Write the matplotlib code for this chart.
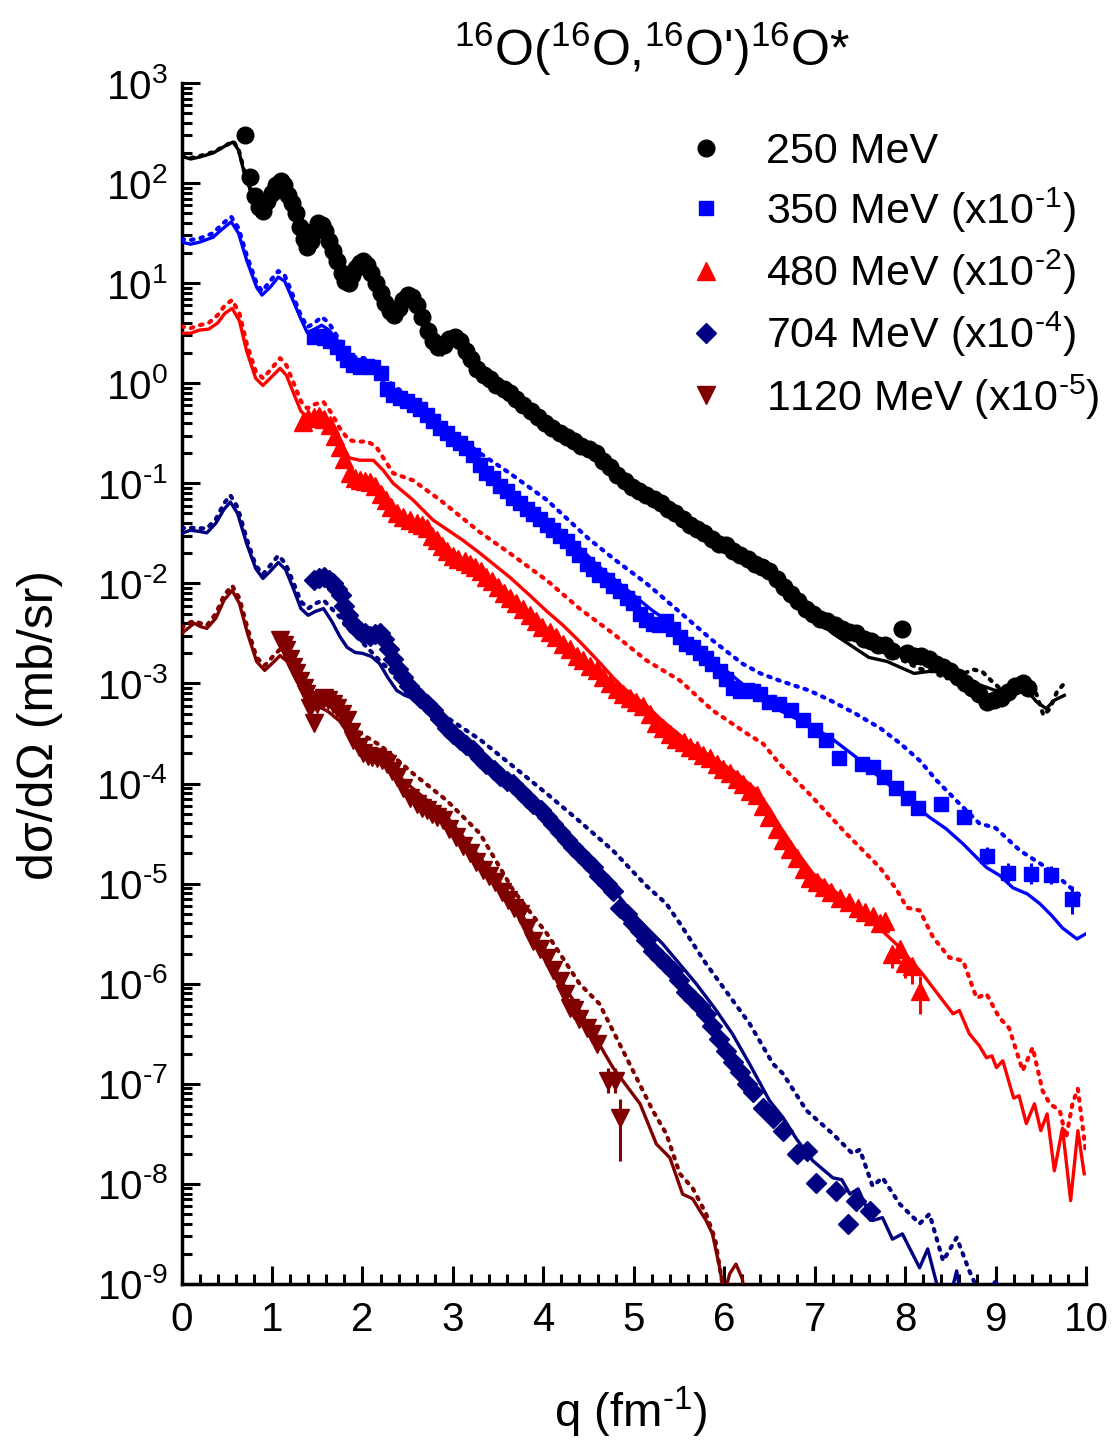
import matplotlib
matplotlib.use("Agg")
import numpy as np
import matplotlib.pyplot as plt
from matplotlib.lines import Line2D
from matplotlib.ticker import LogLocator, MultipleLocator, NullFormatter, FuncFormatter

plt.rcParams['font.family'] = ['Liberation Sans', 'DejaVu Sans']
plt.rcParams['mathtext.fontset'] = 'custom'
plt.rcParams['mathtext.rm'] = 'Liberation Sans'
plt.rcParams['mathtext.it'] = 'Liberation Sans:italic'
plt.rcParams['mathtext.bf'] = 'Liberation Sans:bold'

# ---------------- 250 MeV ----------------
q250_th = [0.00, 0.10, 0.20, 0.35, 0.50, 0.57, 0.63, 0.70, 0.78, 0.86, 0.92, 1.00, 1.07, 1.12, 1.20, 1.30, 1.38,
           1.45, 1.52, 1.58, 1.70, 1.80, 1.86, 1.95, 2.02, 2.10, 2.25, 2.35, 2.45, 2.55, 2.65, 2.78, 2.88, 3.00,
           3.06, 3.20, 3.35, 3.50, 3.65, 3.80, 4.00, 4.25, 4.50, 4.75, 5.00, 5.25, 5.50, 5.75, 6.00, 6.25, 6.50,
           6.75, 7.00, 7.20, 7.40, 7.60, 7.80, 8.00, 8.10, 8.35, 8.50, 8.70, 8.85, 9.00, 9.15, 9.35, 9.45, 9.56,
           9.65, 9.76]
y250_solid = [1.86e2, 1.74e2, 1.82e2, 2.0e2, 2.4e2, 2.57e2, 2.14e2, 1.2e2, 7.6e1, 5.6e1, 5.5e1, 7.4e1, 9.5e1,
              9.3e1, 6.6e1, 3.3e1, 2.24e1, 2.5e1, 3.55e1, 3.3e1, 1.78e1, 1.05e1, 9.1, 1.32e1, 1.51e1, 1.12e1, 5.6,
              4.3, 6.0, 7.1, 4.5, 2.24, 1.91, 2.5, 2.63, 1.51, 1.05, 8.9e-1, 7.1e-1, 5.6e-1, 4.0e-1, 2.8e-1,
              2.2e-1, 1.41e-1, 8.9e-2, 6.3e-2, 4.5e-2, 3.16e-2, 2.24e-2, 1.66e-2, 1.2e-2, 7.9e-3, 4.5e-3,
              3.16e-3, 2.4e-3, 1.82e-3, 1.66e-3, 1.38e-3, 1.26e-3, 1.35e-3, 1.2e-3, 1.07e-3, 9.5e-4, 8.5e-4,
              9.1e-4, 8.5e-4, 6.6e-4, 5.6e-4, 6.8e-4, 7.6e-4]
q250_dot = [0.00, 0.10, 0.20, 0.35, 0.50, 0.57, 0.63, 0.70, 0.78, 0.86, 0.92, 1.00, 1.07, 1.12, 1.20, 1.30, 1.38,
            1.45, 1.52, 1.58, 1.70, 1.80, 1.86, 1.95, 2.02, 2.10, 2.25, 2.35, 2.45, 2.55, 2.65, 2.78, 2.88, 3.00,
            3.06, 3.20, 3.35, 3.50, 3.65, 3.80, 4.00, 4.25, 4.50, 4.75, 5.00, 5.25, 5.50, 5.75, 6.00, 6.25, 6.50,
            6.75, 7.00, 7.20, 7.40, 7.60, 7.80, 8.00, 8.15, 8.30, 8.45, 8.60, 8.75, 8.85, 8.95, 9.05, 9.20, 9.35,
            9.45, 9.53, 9.60, 9.68, 9.76]
y250_dot = [1.86e2, 1.78e2, 1.86e2, 2.04e2, 2.4e2, 2.63e2, 2.19e2, 1.26e2, 7.9e1, 5.9e1, 5.75e1, 7.6e1, 9.8e1,
            9.5e1, 6.9e1, 3.55e1, 2.4e1, 2.63e1, 3.7e1, 3.47e1, 1.91e1, 1.12e1, 9.8, 1.38e1, 1.58e1, 1.2e1, 6.0,
            4.6, 6.3, 7.4, 4.8, 2.5, 2.14, 2.75, 2.88, 1.66, 1.15, 9.5e-1, 7.6e-1, 6.0e-1, 4.3e-1, 3.0e-1,
            2.3e-1, 1.51e-1, 9.5e-2, 6.8e-2, 4.8e-2, 3.4e-2, 2.4e-2, 1.78e-2, 1.29e-2, 8.9e-3, 5.25e-3, 3.8e-3,
            2.9e-3, 2.3e-3, 2.0e-3, 1.66e-3, 1.41e-3, 1.32e-3, 1.12e-3, 1.2e-3, 1.38e-3, 1.32e-3, 1.07e-3,
            8.9e-4, 1.0e-3, 1.07e-3, 7.9e-4, 4.8e-4, 5.6e-4, 8.3e-4, 1.0e-3]
q250_exp = [0.70, 0.76, 0.81, 0.86, 0.90, 0.95, 1.00, 1.05, 1.10, 1.13, 1.18, 1.22, 1.27, 1.31, 1.35, 1.39, 1.43,
            1.47, 1.51, 1.55, 1.59, 1.63, 1.68, 1.72, 1.77, 1.81, 1.85, 1.89, 1.93, 1.97, 2.01, 2.05, 2.10, 2.15,
            2.20, 2.25, 2.30, 2.35, 2.40, 2.45, 2.50, 2.55, 2.60, 2.66, 2.72, 2.78, 2.84, 2.90, 2.96, 3.02, 3.08,
            3.14, 3.20, 3.27, 3.34, 3.41, 3.48, 3.56, 3.63, 3.70, 3.78, 3.86, 3.94, 4.02, 4.10, 4.18, 4.26, 4.34,
            4.42, 4.50, 4.58, 4.66, 4.74, 4.82, 4.90, 4.98, 5.06, 5.14, 5.22, 5.30, 5.38, 5.46, 5.54, 5.62, 5.70,
            5.78, 5.86, 5.94, 6.02, 6.10, 6.18, 6.26, 6.34, 6.42, 6.50, 6.58, 6.66, 6.74, 6.82, 6.90, 6.98, 7.06,
            7.14, 7.22, 7.30, 7.38, 7.46, 7.54, 7.62, 7.70, 7.78, 7.86, 7.97, 8.02, 8.10, 8.18, 8.26, 8.34, 8.42,
            8.50, 8.58, 8.66, 8.74, 8.82, 8.90, 8.98, 9.06, 9.14, 9.22, 9.30, 9.36]
y250_exp = [3.0e2, 1.15e2, 7.4e1, 5.75e1, 5.25e1, 6.6e1, 7.9e1, 9.5e1, 1.05e2, 9.5e1, 7.6e1, 6.3e1, 5.0e1, 3.6e1,
            2.75e1, 2.3e1, 2.63e1, 3.3e1, 4.0e1, 3.8e1, 3.3e1, 2.63e1, 2.1e1, 1.66e1, 1.26e1, 1.05e1, 1.0e1,
            1.2e1, 1.41e1, 1.58e1, 1.66e1, 1.51e1, 1.26e1, 1.0e1, 7.9, 6.3, 5.25, 4.8, 5.6, 6.8, 7.6, 7.2, 6.0,
            4.6, 3.3, 2.63, 2.3, 2.4, 2.75, 2.88, 2.63, 2.1, 1.74, 1.38, 1.2, 1.1, 9.5e-1, 8.7e-1, 7.9e-1,
            6.9e-1, 6.0e-1, 5.25e-1, 4.6e-1, 4.0e-1, 3.6e-1, 3.16e-1, 2.9e-1, 2.63e-1, 2.34e-1, 2.2e-1, 2.0e-1,
            1.66e-1, 1.45e-1, 1.2e-1, 1.05e-1, 9.1e-2, 8.3e-2, 7.6e-2, 6.9e-2, 6.3e-2, 5.6e-2, 5.0e-2, 4.4e-2,
            3.8e-2, 3.5e-2, 3.16e-2, 2.75e-2, 2.5e-2, 2.4e-2, 2.1e-2, 1.9e-2, 1.74e-2, 1.58e-2, 1.45e-2, 1.32e-2,
            1.1e-2, 9.1e-3, 7.9e-3, 6.6e-3, 5.5e-3, 5.0e-3, 4.4e-3, 4.2e-3, 3.8e-3, 3.5e-3, 3.3e-3, 3.16e-3,
            2.8e-3, 2.63e-3, 2.4e-3, 2.4e-3, 2.1e-3, 3.5e-3, 2.0e-3, 1.9e-3, 1.9e-3, 1.74e-3, 1.58e-3, 1.45e-3,
            1.32e-3, 1.15e-3, 1.0e-3, 9.1e-4, 7.9e-4, 6.6e-4, 6.9e-4, 7.2e-4, 8.3e-4, 9.5e-4, 1.0e-3, 9.1e-4]

# ---------------- 350 MeV (x10^-1) ----------------
q350_solid = [0.00, 0.10, 0.20, 0.35, 0.45, 0.55, 0.63, 0.72, 0.83, 0.89, 0.98, 1.07, 1.14, 1.20, 1.31, 1.39,
              1.47, 1.55, 1.63, 1.72, 1.82, 1.90, 2.00, 2.10, 2.20, 2.30, 2.50, 2.75, 3.00, 3.30, 3.50, 3.75,
              4.00, 4.30, 4.60, 4.80, 5.00, 5.20, 5.36, 5.60, 5.85, 6.06, 6.25, 6.40, 6.61, 6.90, 7.17, 7.45,
              7.72, 8.00, 8.27, 8.45, 8.64, 8.90, 9.05, 9.19, 9.35, 9.49, 9.62, 9.74, 9.90, 10.00]
y350_solid = [2.57e1, 2.45e1, 2.57e1, 2.88e1, 3.47e1, 4.1e1, 3.16e1, 1.7e1, 9.1, 7.6, 9.1, 1.15e1, 1.05e1, 7.9,
              4.6, 3.2, 3.47, 3.8, 3.4, 2.7, 2.0, 1.66, 1.55, 1.41, 1.12, 8.7e-1, 6.6e-1, 4.5e-1, 2.8e-1,
              1.58e-1, 1.12e-1, 7.1e-2, 4.7e-2, 2.8e-2, 1.51e-2, 1.07e-2, 7.6e-3, 5.4e-3, 4.3e-3, 2.8e-3,
              1.78e-3, 1.26e-3, 9.1e-4, 7.6e-4, 5.4e-4, 4.0e-4, 2.9e-4, 1.86e-4, 1.15e-4, 7.2e-5, 4.6e-5,
              3.55e-5, 2.5e-5, 1.45e-5, 1.2e-5, 9.1e-6, 7.9e-6, 6.3e-6, 4.8e-6, 3.6e-6, 2.8e-6, 3.16e-6]
q350_dot = [0.00, 0.10, 0.20, 0.35, 0.45, 0.55, 0.63, 0.72, 0.83, 0.89, 0.98, 1.07, 1.14, 1.20, 1.31, 1.39, 1.47,
            1.55, 1.63, 1.72, 1.82, 1.92, 2.02, 2.12, 2.25, 2.40, 2.60, 2.80, 3.00, 3.30, 3.63, 4.04, 4.50, 4.80,
            5.14, 5.50, 5.87, 6.20, 6.40, 6.61, 6.94, 7.17, 7.45, 7.72, 7.95, 8.16, 8.35, 8.60, 8.82, 9.00, 9.27,
            9.56, 9.74, 9.93, 10.00]
y350_dot = [2.75e1, 2.7e1, 2.8e1, 3.16e1, 3.9e1, 4.6e1, 3.55e1, 1.91e1, 1.0e1, 8.3, 1.05e1, 1.32e1, 1.2e1, 8.9,
            5.0, 3.63, 4.0, 4.6, 4.0, 2.95, 2.19, 1.82, 1.78, 1.51, 1.1, 8.7e-1, 6.3e-1, 4.4e-1, 3.16e-1, 2.0e-1,
            1.26e-1, 6.8e-2, 2.8e-2, 1.7e-2, 1.0e-2, 5.25e-3, 2.7e-3, 1.58e-3, 1.26e-3, 1.07e-3, 8.5e-4, 6.8e-4,
            5.0e-4, 3.6e-4, 2.5e-4, 1.7e-4, 1.07e-4, 6.3e-5, 4.0e-5, 3.6e-5, 2.14e-5, 1.45e-5, 1.07e-5, 7.6e-6,
            7.6e-6]
q350_exp = [1.46, 1.52, 1.58, 1.64, 1.72, 1.78, 1.83, 1.90, 1.97, 2.05, 2.12, 2.20, 2.27, 2.34, 2.42, 2.49, 2.57,
            2.64, 2.71, 2.78, 2.86, 2.93, 3.00, 3.08, 3.15, 3.22, 3.30, 3.37, 3.44, 3.52, 3.60, 3.67, 3.74, 3.82,
            3.89, 3.96, 4.04, 4.11, 4.18, 4.26, 4.33, 4.40, 4.48, 4.55, 4.62, 4.70, 4.77, 4.85, 4.92, 4.99, 5.07,
            5.14, 5.21, 5.28, 5.36, 5.43, 5.51, 5.58, 5.65, 5.73, 5.80, 5.87, 5.95, 6.02, 6.10, 6.17, 6.25, 6.32,
            6.40, 6.50, 6.61, 6.74, 6.87, 7.00, 7.13, 7.27, 7.52, 7.64, 7.77, 7.90, 8.03, 8.14, 8.40, 8.65, 8.90,
            9.14, 9.39, 9.61, 9.85]
y350_exp = [2.88, 2.95, 2.8, 2.63, 2.3, 2.0, 1.7, 1.51, 1.45, 1.48, 1.45, 1.26, 8.7e-1, 7.6e-1, 7.1e-1, 6.6e-1,
            6.0e-1, 5.5e-1, 4.8e-1, 4.2e-1, 3.6e-1, 3.16e-1, 2.8e-1, 2.5e-1, 2.24e-1, 1.9e-1, 1.51e-1, 1.26e-1,
            1.12e-1, 9.5e-2, 8.3e-2, 7.2e-2, 6.3e-2, 5.5e-2, 4.9e-2, 4.4e-2, 3.8e-2, 3.4e-2, 3.0e-2, 2.63e-2,
            2.24e-2, 1.9e-2, 1.58e-2, 1.38e-2, 1.2e-2, 1.07e-2, 9.5e-3, 8.3e-3, 7.2e-3, 6.3e-3, 5.0e-3, 4.3e-3,
            3.9e-3, 3.8e-3, 4.2e-3, 3.5e-3, 2.9e-3, 2.5e-3, 2.3e-3, 2.0e-3, 1.78e-3, 1.58e-3, 1.32e-3, 1.12e-3,
            9.1e-4, 8.5e-4, 8.7e-4, 8.5e-4, 7.9e-4, 6.6e-4, 6.3e-4, 5.4e-4, 4.3e-4, 3.4e-4, 2.7e-4, 1.78e-4,
            1.58e-4, 1.45e-4, 1.15e-4, 9.1e-5, 7.1e-5, 5.75e-5, 6.3e-5, 4.6e-5, 1.9e-5, 1.29e-5, 1.26e-5,
            1.23e-5, 7.1e-6]
q350_eb = [8.90, 9.14, 9.39, 9.61, 9.85]
y350_eb = [1.9e-5, 1.29e-5, 1.26e-5, 1.23e-5, 7.1e-6]
lo350_eb = [1.58e-5, 1.05e-5, 1.0e-5, 1.0e-5, 5.0e-6]
hi350_eb = [2.3e-5, 1.6e-5, 1.6e-5, 1.5e-5, 9.5e-6]

# ---------------- 480 MeV (x10^-2) ----------------
q480_solid = [0.00, 0.10, 0.20, 0.30, 0.40, 0.48, 0.56, 0.64, 0.72, 0.82, 0.90, 0.98, 1.09, 1.16, 1.24, 1.32,
              1.39, 1.48, 1.57, 1.66, 1.75, 1.83, 1.97, 2.12, 2.23, 2.34, 2.56, 2.78, 3.11, 3.30, 3.63, 3.85,
              4.04, 4.22, 4.40, 4.59, 4.77, 4.88, 5.14, 5.32, 5.58, 5.87, 6.14, 6.36, 6.50, 6.61, 6.80, 6.98,
              7.28, 7.61, 7.72, 7.90, 8.19, 8.40, 8.53, 8.60, 8.71, 8.82, 8.90, 8.96, 9.01, 9.08, 9.20, 9.26,
              9.34, 9.43, 9.50, 9.57, 9.65, 9.74, 9.83, 9.91, 9.98]
y480_solid = [3.16, 3.16, 3.4, 3.47, 4.0, 5.0, 5.6, 4.2, 2.1, 1.12, 9.5e-1, 1.12, 1.41, 1.2, 7.9e-1, 5.25e-1,
              4.6e-1, 4.9e-1, 5.0e-1, 3.8e-1, 2.5e-1, 1.82e-1, 1.7e-1, 1.7e-1, 1.35e-1, 1.0e-1, 6.8e-2, 4.3e-2,
              2.7e-2, 2.0e-2, 1.15e-2, 7.6e-3, 5.25e-3, 3.8e-3, 2.63e-3, 1.74e-3, 1.15e-3, 9.1e-4, 6.0e-4,
              4.2e-4, 2.7e-4, 1.82e-4, 1.26e-4, 8.5e-5, 5.6e-5, 3.8e-5, 2.1e-5, 1.26e-5, 7.6e-6, 4.5e-6,
              3.55e-6, 2.5e-6, 1.26e-6, 7.1e-7, 5.0e-7, 5.4e-7, 3.16e-7, 2.4e-7, 1.82e-7, 1.9e-7, 1.45e-7,
              1.7e-7, 7.2e-8, 7.6e-8, 4.0e-8, 6.3e-8, 3.4e-8, 5.0e-8, 1.35e-8, 3.6e-8, 6.8e-9, 3.4e-8, 1.26e-8]
q480_dot = [0.00, 0.10, 0.20, 0.30, 0.40, 0.48, 0.56, 0.64, 0.72, 0.82, 0.90, 0.98, 1.09, 1.16, 1.24, 1.32, 1.39,
            1.48, 1.57, 1.66, 1.75, 1.85, 1.95, 2.05, 2.15, 2.34, 2.56, 2.86, 3.30, 3.63, 4.04, 4.40, 4.77, 5.14,
            5.51, 5.87, 6.25, 6.43, 6.61, 6.94, 7.35, 7.72, 7.90, 8.02, 8.16, 8.31, 8.49, 8.64, 8.79, 8.90, 9.04,
            9.15, 9.30, 9.41, 9.52, 9.60, 9.71, 9.78, 9.85, 9.91, 10.00]
y480_dot = [3.7, 3.55, 3.8, 4.0, 4.8, 6.0, 6.8, 5.0, 2.5, 1.32, 1.12, 1.35, 1.78, 1.51, 1.0, 6.6e-1, 5.6e-1,
            6.2e-1, 6.5e-1, 5.0e-1, 3.55e-1, 2.7e-1, 2.6e-1, 2.63e-1, 2.34e-1, 1.26e-1, 1.07e-1, 6.8e-2, 3.24e-2,
            2.0e-2, 1.07e-2, 5.6e-3, 3.16e-3, 1.7e-3, 1.07e-3, 5.4e-4, 3.16e-4, 2.5e-4, 1.58e-4, 7.9e-5, 3.16e-5,
            1.45e-5, 8.9e-6, 5.75e-6, 5.4e-6, 2.9e-6, 1.82e-6, 1.7e-6, 7.2e-7, 7.9e-7, 4.6e-7, 3.6e-7, 1.35e-7,
            2.3e-7, 8.5e-8, 6.3e-8, 5.4e-8, 2.9e-8, 6.3e-8, 8.9e-8, 2.0e-8]
q480_exp = [1.34, 1.40, 1.46, 1.52, 1.58, 1.64, 1.70, 1.75, 1.80, 1.86, 1.92, 1.97, 2.03, 2.08, 2.14, 2.20, 2.26,
            2.32, 2.38, 2.45, 2.53, 2.60, 2.66, 2.71, 2.77, 2.82, 2.88, 2.94, 3.00, 3.06, 3.13, 3.19, 3.25, 3.31,
            3.37, 3.43, 3.50, 3.56, 3.63, 3.70, 3.77, 3.85, 3.92, 3.99, 4.07, 4.14, 4.22, 4.29, 4.37, 4.44, 4.52,
            4.59, 4.66, 4.74, 4.81, 4.88, 4.96, 5.03, 5.10, 5.18, 5.25, 5.32, 5.40, 5.47, 5.55, 5.62, 5.70, 5.77,
            5.84, 5.92, 5.99, 6.06, 6.14, 6.21, 6.28, 6.36, 6.43, 6.50, 6.58, 6.65, 6.73, 6.80, 6.88, 6.95, 7.03,
            7.10, 7.18, 7.28, 7.38, 7.48, 7.56, 7.64, 7.72, 7.78, 7.86, 7.94, 8.00, 8.08, 8.16]
y480_exp = [4.1e-1, 4.5e-1, 4.6e-1, 4.7e-1, 4.4e-1, 3.8e-1, 3.0e-1, 2.3e-1, 1.74e-1, 1.26e-1, 1.12e-1, 1.07e-1,
            1.05e-1, 1.02e-1, 9.5e-2, 7.9e-2, 6.8e-2, 5.75e-2, 5.0e-2, 4.6e-2, 4.3e-2, 4.0e-2, 3.8e-2, 3.55e-2,
            3.0e-2, 2.7e-2, 2.34e-2, 2.1e-2, 1.86e-2, 1.74e-2, 1.66e-2, 1.58e-2, 1.45e-2, 1.32e-2, 1.17e-2,
            1.05e-2, 9.1e-3, 8.1e-3, 7.1e-3, 6.3e-3, 5.5e-3, 4.8e-3, 4.2e-3, 3.7e-3, 3.3e-3, 2.9e-3, 2.5e-3,
            2.2e-3, 1.9e-3, 1.7e-3, 1.51e-3, 1.35e-3, 1.17e-3, 1.02e-3, 8.9e-4, 7.9e-4, 7.2e-4, 6.6e-4, 6.0e-4,
            5.0e-4, 4.0e-4, 3.55e-4, 3.16e-4, 2.8e-4, 2.6e-4, 2.3e-4, 2.14e-4, 1.95e-4, 1.78e-4, 1.58e-4,
            1.41e-4, 1.26e-4, 1.12e-4, 1.0e-4, 8.5e-5, 7.6e-5, 6.0e-5, 4.6e-5, 3.5e-5, 2.75e-5, 2.2e-5, 1.82e-5,
            1.41e-5, 1.15e-5, 1.05e-5, 9.3e-6, 8.3e-6, 7.2e-6, 6.6e-6, 5.75e-6, 5.25e-6, 4.8e-6, 4.0e-6, 4.2e-6,
            2.0e-6, 2.24e-6, 1.62e-6, 1.51e-6, 8.5e-7]
q480_eb = [7.86, 8.00, 8.08, 8.16]
y480_eb = [2.0e-6, 1.62e-6, 1.51e-6, 8.5e-7]
lo480_eb = [1.45e-6, 1.15e-6, 1.0e-6, 5.0e-7]
hi480_eb = [2.2e-6, 1.8e-6, 1.7e-6, 1.2e-6]

# ---------------- 704 MeV (x10^-4) ----------------
q704_solid = [0.00, 0.10, 0.20, 0.28, 0.38, 0.47, 0.54, 0.62, 0.72, 0.82, 0.90, 0.98, 1.07, 1.15, 1.24, 1.32,
              1.40, 1.48, 1.57, 1.66, 1.75, 1.83, 1.92, 2.00, 2.10, 2.19, 2.28, 2.38, 2.47, 2.56, 2.78, 3.11,
              3.30, 3.63, 4.04, 4.40, 4.77, 4.99, 5.32, 5.69, 5.90, 6.09, 6.28, 6.50, 6.65, 6.80, 6.98, 7.20,
              7.30, 7.39, 7.48, 7.64, 7.75, 7.86, 7.97, 8.16, 8.25, 8.35, 8.45, 8.57, 8.65]
y704_solid = [3.16e-2, 3.4e-2, 3.3e-2, 3.2e-2, 4.0e-2, 5.5e-2, 6.5e-2, 5.0e-2, 2.5e-2, 1.41e-2, 1.12e-2, 1.32e-2,
              1.62e-2, 1.38e-2, 8.7e-3, 5.6e-3, 4.8e-3, 5.25e-3, 5.6e-3, 4.2e-3, 2.95e-3, 2.3e-3, 2.04e-3,
              2.0e-3, 1.86e-3, 1.58e-3, 1.15e-3, 8.5e-4, 7.6e-4, 7.1e-4, 5.0e-4, 2.7e-4, 1.82e-4, 9.1e-5,
              4.4e-5, 1.9e-5, 8.9e-6, 5.0e-6, 2.5e-6, 1.0e-6, 5.6e-7, 3.16e-7, 1.58e-7, 6.8e-8, 4.6e-8, 2.8e-8,
              1.7e-8, 1.15e-8, 1.1e-8, 7.9e-9, 8.9e-9, 4.3e-9, 4.6e-9, 2.8e-9, 3.16e-9, 1.45e-9, 2.24e-9, 1.0e-9,
              5.0e-10, 1.35e-9, 5.0e-10]
q704_dot = [0.00, 0.10, 0.20, 0.28, 0.38, 0.47, 0.54, 0.62, 0.72, 0.82, 0.90, 0.98, 1.07, 1.15, 1.24, 1.32, 1.40,
            1.48, 1.57, 1.66, 1.75, 1.83, 1.90, 2.05, 2.20, 2.34, 2.56, 2.93, 3.30, 3.63, 4.04, 4.40, 4.77, 5.14,
            5.36, 5.51, 5.80, 6.28, 6.54, 6.65, 6.91, 7.20, 7.42, 7.50, 7.64, 7.75, 7.94, 8.16, 8.27, 8.42, 8.57,
            8.71, 8.80, 8.90, 9.00, 9.08]
y704_dot = [3.55e-2, 3.6e-2, 3.55e-2, 3.55e-2, 4.4e-2, 6.3e-2, 7.6e-2, 5.75e-2, 2.8e-2, 1.51e-2, 1.23e-2,
            1.51e-2, 1.9e-2, 1.58e-2, 1.0e-2, 6.6e-3, 5.6e-3, 6.3e-3, 6.8e-3, 5.6e-3, 4.6e-3, 3.6e-3, 3.16e-3,
            2.3e-3, 1.66e-3, 1.26e-3, 7.6e-4, 4.6e-4, 2.75e-4, 1.58e-4, 7.9e-5, 4.2e-5, 2.14e-5, 9.5e-6, 6.3e-6,
            4.0e-6, 1.58e-6, 4.0e-7, 1.58e-7, 1.26e-7, 5.4e-8, 3.16e-8, 2.0e-8, 2.2e-8, 9.5e-9, 1.15e-8, 6.3e-9,
            4.0e-9, 5.0e-9, 1.7e-9, 2.9e-9, 1.35e-9, 8.9e-10, 5.0e-10, 1.12e-9, 5.0e-10]
q704_exp = [1.46, 1.52, 1.57, 1.63, 1.68, 1.72, 1.76, 1.80, 1.84, 1.88, 1.93, 1.98, 2.03, 2.08, 2.14, 2.19, 2.24,
            2.29, 2.34, 2.39, 2.45, 2.51, 2.57, 2.64, 2.71, 2.78, 2.86, 2.93, 3.00, 3.08, 3.15, 3.22, 3.30, 3.37,
            3.45, 3.52, 3.60, 3.67, 3.75, 3.82, 3.89, 3.97, 4.04, 4.11, 4.18, 4.26, 4.33, 4.40, 4.48, 4.55, 4.62,
            4.70, 4.77, 4.85, 4.92, 4.99, 5.07, 5.14, 5.21, 5.29, 5.36, 5.43, 5.50, 5.58, 5.65, 5.73, 5.80, 5.87,
            5.94, 6.02, 6.10, 6.17, 6.25, 6.32, 6.43, 6.54, 6.65, 6.80, 6.91, 7.02, 7.24, 7.37, 7.46, 7.61]
y704_exp = [1.07e-2, 1.12e-2, 1.15e-2, 1.07e-2, 1.0e-2, 8.7e-3, 7.6e-3, 6.0e-3, 4.8e-3, 4.0e-3, 3.55e-3, 3.3e-3,
            3.16e-3, 3.0e-3, 3.1e-3, 3.16e-3, 2.75e-3, 2.2e-3, 1.74e-3, 1.41e-3, 1.15e-3, 9.5e-4, 8.3e-4,
            7.2e-4, 6.3e-4, 5.4e-4, 4.4e-4, 3.6e-4, 3.16e-4, 2.7e-4, 2.4e-4, 2.14e-4, 1.82e-4, 1.58e-4, 1.38e-4,
            1.2e-4, 1.07e-4, 9.8e-5, 8.3e-5, 7.2e-5, 6.3e-5, 5.4e-5, 4.6e-5, 3.9e-5, 3.3e-5, 2.75e-5, 2.34e-5,
            2.0e-5, 1.7e-5, 1.45e-5, 1.2e-5, 1.0e-5, 8.5e-6, 5.75e-6, 5.0e-6, 4.0e-6, 3.4e-6, 2.75e-6, 2.14e-6,
            1.82e-6, 1.58e-6, 1.35e-6, 1.1e-6, 8.3e-7, 7.1e-7, 6.0e-7, 5.0e-7, 3.8e-7, 2.8e-7, 2.14e-7, 1.66e-7,
            1.32e-7, 1.0e-7, 8.3e-8, 5.75e-8, 4.6e-8, 3.4e-8, 2.0e-8, 2.14e-8, 1.02e-8, 8.5e-9, 4.0e-9, 6.8e-9,
            5.4e-9]

# ---------------- 1120 MeV (x10^-5) ----------------
q1120_solid = [0.00, 0.07, 0.14, 0.21, 0.28, 0.38, 0.47, 0.56, 0.64, 0.73, 0.83, 0.92, 1.00, 1.09, 1.17, 1.27,
               1.38, 1.50, 1.62, 1.75, 1.88, 2.00, 2.15, 2.30, 2.56, 2.93, 3.30, 3.67, 4.04, 4.40, 4.77, 5.07,
               5.25, 5.40, 5.54, 5.65, 5.80, 5.87, 5.95, 6.00, 6.06, 6.13, 6.20, 6.24]
y1120_solid = [3.16e-3, 3.55e-3, 4.0e-3, 3.7e-3, 3.55e-3, 4.5e-3, 6.8e-3, 8.5e-3, 6.3e-3, 3.16e-3, 1.66e-3,
               1.35e-3, 1.58e-3, 1.9e-3, 1.66e-3, 1.17e-3, 7.9e-4, 6.0e-4, 5.25e-4, 4.2e-4, 2.8e-4, 2.2e-4,
               1.82e-4, 1.41e-4, 8.9e-5, 4.7e-5, 1.82e-5, 6.8e-6, 1.82e-6, 5.4e-7, 1.45e-7, 6.3e-8, 2.5e-8,
               1.82e-8, 7.9e-9, 7.1e-9, 4.3e-9, 3.16e-9, 1.45e-9, 7.9e-10, 1.26e-9, 1.58e-9, 1.12e-9, 6.3e-10]
q1120_dot = [0.00, 0.07, 0.14, 0.21, 0.28, 0.38, 0.47, 0.56, 0.64, 0.73, 0.83, 0.92, 1.00, 1.09, 1.17, 1.27, 1.38,
             1.50, 1.60, 1.72, 1.85, 2.05, 2.20, 2.56, 2.93, 3.30, 3.67, 4.04, 4.40, 4.62, 4.92, 5.21, 5.36, 5.51,
             5.65, 5.80, 5.90, 5.98, 6.02]
y1120_dot = [3.6e-3, 4.0e-3, 4.2e-3, 4.0e-3, 3.8e-3, 5.0e-3, 7.6e-3, 9.5e-3, 7.1e-3, 3.55e-3, 1.82e-3, 1.51e-3,
             1.82e-3, 2.2e-3, 1.9e-3, 1.32e-3, 8.9e-4, 7.6e-4, 7.9e-4, 5.75e-4, 3.8e-4, 2.9e-4, 2.4e-4, 1.26e-4,
             6.8e-5, 3.16e-5, 8.5e-6, 3.16e-6, 1.0e-6, 6.3e-7, 1.82e-7, 5.4e-8, 3.16e-8, 1.26e-8, 9.1e-9, 5.0e-9,
             2.8e-9, 1.0e-9, 6.3e-10]
q1120_exp = [1.09, 1.13, 1.16, 1.20, 1.23, 1.27, 1.31, 1.35, 1.38, 1.42, 1.46, 1.50, 1.54, 1.58, 1.62, 1.67, 1.72,
             1.77, 1.83, 1.87, 1.90, 1.96, 2.01, 2.06, 2.11, 2.16, 2.22, 2.27, 2.33, 2.38, 2.45, 2.53, 2.60, 2.66,
             2.71, 2.77, 2.83, 2.89, 2.96, 3.04, 3.11, 3.19, 3.26, 3.33, 3.40, 3.47, 3.54, 3.61, 3.68, 3.74, 3.82,
             3.89, 3.96, 4.04, 4.11, 4.18, 4.24, 4.29, 4.34, 4.40, 4.48, 4.54, 4.59, 4.71, 4.79, 4.85]
y1120_exp = [2.7e-3, 2.4e-3, 2.14e-3, 1.74e-3, 1.45e-3, 1.26e-3, 1.07e-3, 9.1e-4, 7.9e-4, 5.75e-4, 4.0e-4,
             6.3e-4, 6.8e-4, 7.2e-4, 6.9e-4, 6.3e-4, 5.75e-4, 5.0e-4, 4.3e-4, 3.3e-4, 2.7e-4, 2.3e-4, 2.0e-4,
             1.9e-4, 1.86e-4, 1.82e-4, 1.7e-4, 1.58e-4, 1.35e-4, 1.15e-4, 9.1e-5, 7.2e-5, 6.3e-5, 5.75e-5, 5.4e-5,
             5.0e-5, 4.6e-5, 4.3e-5, 3.55e-5, 2.9e-5, 2.4e-5, 2.0e-5, 1.66e-5, 1.38e-5, 1.2e-5, 1.05e-5, 8.3e-6,
             6.9e-6, 5.75e-6, 5.0e-6, 3.6e-6, 2.7e-6, 2.24e-6, 1.82e-6, 1.38e-6, 1.07e-6, 7.9e-7, 5.75e-7, 5.4e-7,
             4.4e-7, 3.6e-7, 3.16e-7, 2.5e-7, 1.07e-7, 1.07e-7, 4.5e-8]
q1120_eb = [4.71, 4.79, 4.85]
y1120_eb = [1.07e-7, 1.07e-7, 4.5e-8]
lo1120_eb = [8.0e-8, 8.0e-8, 1.7e-8]
hi1120_eb = [1.45e-7, 1.45e-7, 7.1e-8]

labels = ['250 MeV', r'350 MeV (x10$^{\text{-}1}$)', r'480 MeV (x10$^{\text{-}2}$)',
          r'704 MeV (x10$^{\text{-}4}$)', r'1120 MeV (x10$^{\text{-}5}$)']
colors = ['#000000', '#0000FF', '#FF0000', '#000080', '#800000']
markers = ['o', 's', '^', 'D', 'v']
msizes = [12, 10.5, 12.5, 10, 12.5]

series = [
    (q250_th, y250_solid, q250_dot, y250_dot, q250_exp, y250_exp, None),
    (q350_solid, y350_solid, q350_dot, y350_dot, q350_exp, y350_exp, (q350_eb, y350_eb, lo350_eb, hi350_eb)),
    (q480_solid, y480_solid, q480_dot, y480_dot, q480_exp, y480_exp, (q480_eb, y480_eb, lo480_eb, hi480_eb)),
    (q704_solid, y704_solid, q704_dot, y704_dot, q704_exp, y704_exp, None),
    (q1120_solid, y1120_solid, q1120_dot, y1120_dot, q1120_exp, y1120_exp,
     (q1120_eb, y1120_eb, lo1120_eb, hi1120_eb)),
]


def log_label(v, pos):
    # 10^n with a short hyphen, like the original figure
    n = int(round(np.log10(v)))
    if n < 0:
        return r'$\mathdefault{10^{\text{-}%d}}$' % (-n)
    return r'$\mathdefault{10^{%d}}$' % n


fig = plt.figure(figsize=(11.15, 14.41), dpi=100)
ax = fig.add_axes([0.1628, 0.1090, 0.8112, 0.8334])

for (qs, ys, qd, yd, qe, ye, eb), c, m, ms in zip(series, colors, markers, msizes):
    ax.plot(qe, ye, linestyle='none', marker=m, ms=ms, color=c, mec=c, zorder=2)
    if eb is not None:
        qb, yb, lo, hi = (np.array(v) for v in eb)
        ax.errorbar(qb, yb, yerr=[yb - lo, hi - yb], fmt='none', ecolor=c, elinewidth=2.2, capsize=0, zorder=2)
    ax.plot(qs, ys, '-', color=c, lw=2.4, zorder=3)
    ax.plot(qd, yd, color=c, lw=3.0, linestyle=(0, (0.6, 1.7)), dash_capstyle='round', zorder=3)

ax.set_yscale('log')
ax.set_xlim(0, 10)
ax.set_ylim(1e-9, 1e3)

ax.spines['top'].set_visible(False)
ax.spines['right'].set_visible(False)
ax.spines['left'].set_linewidth(2.5)
ax.spines['bottom'].set_linewidth(2.5)

ax.xaxis.set_major_locator(MultipleLocator(1))
ax.xaxis.set_minor_locator(MultipleLocator(0.2))
ax.yaxis.set_major_locator(LogLocator(base=10, numticks=20))
ax.yaxis.set_minor_locator(LogLocator(base=10, subs=np.arange(2, 10), numticks=20))
ax.yaxis.set_major_formatter(FuncFormatter(log_label))
ax.yaxis.set_minor_formatter(NullFormatter())

ax.tick_params(which='major', direction='in', length=13, width=2.2, labelsize=29)
ax.tick_params(which='minor', direction='in', length=7, width=2.2)
ax.tick_params(axis='x', which='major', pad=12)
ax.tick_params(axis='y', which='major', pad=10)

handles = [Line2D([], [], linestyle='none', marker=m, ms=ms, color=c) for m, ms, c in zip(markers, msizes, colors)]
ax.legend(handles, labels, loc='upper left', bbox_to_anchor=(0.556, 0.959), frameon=False, fontsize=31,
          handlelength=1.0, handletextpad=0.9, labelspacing=0.3, borderpad=0, borderaxespad=0)

fig.text(0.585, 0.966, r"$^{16}$O($^{16}$O,$^{16}$O')$^{16}$O*", ha='center', va='center', fontsize=36)
fig.text(0.036, 0.497, 'dσ/dΩ (mb/sr)', rotation=90, ha='center', va='center', fontsize=36)
fig.text(0.566, 0.02, r'q (fm$^{\text{-}1}$)', ha='center', va='center', fontsize=34)

fig.savefig('out.png', dpi=100)
